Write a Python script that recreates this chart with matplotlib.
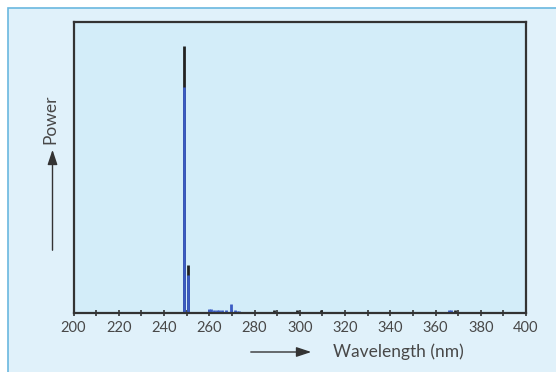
import matplotlib
matplotlib.use("Agg")
import matplotlib.pyplot as plt
from matplotlib.patches import Rectangle, FancyArrowPatch

# spectrum lines (wavelength in nm, relative power)
black_wl = [249.0, 250.7, 288.4, 298.6, 309.6, 368.5]
black_pw = [0.918, 0.164, 0.012, 0.010, 0.010, 0.011]
blue_wl = [249.0, 250.7, 260.0, 260.8, 262.1, 263.4, 264.5, 265.6, 267.4, 269.5,
           271.3, 272.1, 273.3, 274.8, 276.1, 277.4, 278.8, 280.1, 281.6, 283.2,
           284.7, 286.1, 366.1, 367.0]
blue_pw = [0.776, 0.131, 0.014, 0.014, 0.010, 0.009, 0.010, 0.010, 0.010, 0.031,
           0.009, 0.007, 0.006, 0.005, 0.005, 0.005, 0.004, 0.004, 0.004, 0.004,
           0.004, 0.004, 0.010, 0.010]
major_ticks = list(range(200, 401, 20))
minor_ticks = list(range(210, 400, 20))

plt.rcParams['font.family'] = ['Lato', 'DejaVu Sans']
text_col = '#484848'

fig = plt.figure(figsize=(5.56, 3.72), dpi=100)
fig.patch.set_facecolor('white')

# outer light-blue panel
fig.add_artist(Rectangle((8 / 556, -0.05), 1.05, 1 - 8 / 372 + 0.05,
                         transform=fig.transFigure, facecolor='#e0f1fa',
                         edgecolor='#6ab8df', linewidth=1.2, zorder=0))

ax = fig.add_axes([73.5 / 556, 59 / 372, 452.5 / 556, 291 / 372])
ax.set_facecolor('#d3edf9')
ax.vlines(black_wl, 0, black_pw, color='#222222', linewidth=2)
ax.vlines(blue_wl, 0, blue_pw, color='#3b5cc4', linewidth=2)

ax.set_xlim(200, 400)
ax.set_ylim(0, 1)
ax.set_xticks(major_ticks)
ax.set_xticks(minor_ticks, minor=True)
ax.set_yticks([])
ax.tick_params(axis='x', which='both', direction='inout', length=5, width=1.2,
               color='#333333', labelsize=10.5, labelcolor=text_col, pad=3)
for s in ax.spines.values():
    s.set_color('#333333')
    s.set_linewidth(1.6)

# axis captions with arrows, as in the figure
arrow = dict(transform=fig.transFigure, arrowstyle='-|>,head_length=9,head_width=3',
             color='#333333', linewidth=1, mutation_scale=1)
fig.text(50 / 556, 1 - 119 / 372, 'Power', rotation=90, ha='center', va='center',
         fontsize=12.5, color=text_col)
fig.add_artist(FancyArrowPatch((52.5 / 556, 1 - 253 / 372), (52.5 / 556, 1 - 147 / 372), **arrow))
fig.text(333 / 556, 1 - 352 / 372, 'Wavelength (nm)', ha='left', va='center',
         fontsize=12.5, color=text_col)
fig.add_artist(FancyArrowPatch((248 / 556, 1 - 352 / 372), (314 / 556, 1 - 352 / 372), **arrow))

fig.savefig('out.png', dpi=100)
